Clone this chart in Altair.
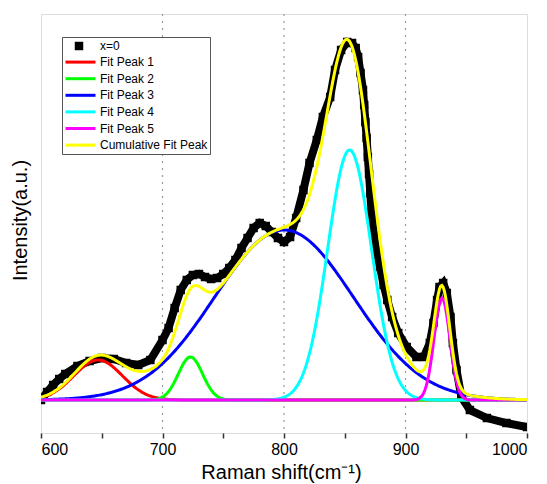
import altair as alt
import pandas as pd
import numpy as np

data_x = [600, 605, 610, 615, 620, 630, 640, 650, 660, 670, 680, 690, 700, 705, 710, 715,
          720, 725, 730, 735, 740, 745, 750, 755, 760, 765, 770, 775, 780, 785, 790, 795,
          800, 805, 810, 816, 821, 827, 832, 838, 842, 847, 852, 856, 859, 861, 863, 865,
          866, 867, 868, 869, 870, 871, 872, 874, 876, 879, 882, 885, 889, 894, 901, 909,
          915, 920, 923, 926, 928, 931, 934, 937, 939, 942, 946, 953, 967, 983, 1000]
data_y = [0, 8, 15, 21, 26, 34, 39, 42, 41, 37, 35, 40, 60, 72, 92, 110,
          120, 125, 126, 123, 121, 122, 126, 132, 140, 152, 162, 172, 177, 174, 168, 162,
          158, 163, 182, 210, 237, 260, 283, 303, 330, 350, 358, 357, 352, 343, 327, 310,
          295, 278, 262, 243, 226, 207, 188, 165, 150, 133, 115, 100, 83, 67, 53, 43,
          43, 57, 77, 100, 113, 117, 107, 83, 57, 30, 3, -10, -18, -23, -27]

# ---- Gaussian fit peaks (parameters) ----
peak_names = ["Fit Peak 1", "Fit Peak 2", "Fit Peak 3", "Fit Peak 4", "Fit Peak 5"]
peak_centers = [647, 723, 800, 854, 930]
peak_heights = [40, 43, 170, 250, 102]
peak_sigmas = [20, 10, 57, 18, 6.5]
cumulative_name = "Cumulative Fit Peak"
data_name = "x=0"

legend_domain = [data_name] + peak_names + [cumulative_name]
legend_colors = ["transparent", "#ff0000", "#00ff00", "#0000ff", "#00ffff", "#ff00ff", "#ffff00"]

grid_x = [700, 800, 900]
tick_values = [600, 650, 700, 750, 800, 850, 900, 950, 1000]

# ---- build tables ----
xs = np.arange(600, 1000.5, 1.0)
total = np.zeros_like(xs)
frames = []
for name, c, h, s in zip(peak_names, peak_centers, peak_heights, peak_sigmas):
    yv = h * np.exp(-((xs - c) ** 2) / (2 * s ** 2))
    total = total + yv
    frames.append(pd.DataFrame({"x": xs, "y": yv, "series": name}))
frames.append(pd.DataFrame({"x": xs, "y": total, "series": cumulative_name}))
fits = pd.concat(frames, ignore_index=True)

meas = pd.DataFrame({"x": data_x, "y": data_y, "name": data_name})
grid = pd.DataFrame({"x": grid_x})

FONT = "Liberation Sans"

x_enc = alt.X(
    "x:Q",
    scale=alt.Scale(domain=[600, 1000], nice=False, zero=False),
    axis=alt.Axis(
        values=tick_values, format="d",
        labelExpr="datum.value % 100 == 0 ? datum.label : ''",
        grid=False, domain=False, ticks=True, tickSize=5, tickColor="#333333", tickWidth=1.5,
        labelFontSize=16, labelFont=FONT, labelColor="black", labelPadding=3,
        title="Raman shift(cm⁻¹)", titleFontSize=20, titleFont=FONT, titleFontWeight="normal",
        titleColor="black", titleBaseline="alphabetic", titleY=45, titleX=240,
    ),
)
y_enc = alt.Y(
    "y:Q",
    scale=alt.Scale(domain=[-33, 386], nice=False, zero=False),
    axis=alt.Axis(
        labels=False, ticks=False, domain=False, grid=False,
        title="Intensity(a.u.)", titleFontSize=20, titleFont=FONT, titleFontWeight="normal",
        titleColor="black", titleAngle=-90, titleX=-15, titleY=206,
        titleBaseline="alphabetic", titleAlign="center",
    ),
)

color_enc = alt.Color(
    "series:N",
    title=None,
    scale=alt.Scale(domain=legend_domain, range=legend_colors),
    legend=alt.Legend(
        orient="none", legendX=21, legendY=23, symbolType="M-1,0H5", symbolSize=100,
        symbolStrokeWidth=3, labelFontSize=12, labelFont=FONT, labelColor="black",
        rowPadding=3.6, padding=2, strokeColor="#555555", fillColor="white",
        labelOffset=23, labelLimit=300, zindex=1,
    ),
)

gridlines = alt.Chart(grid).mark_rule(color="#999999", strokeDash=[2, 5], strokeWidth=1.2).encode(x=x_enc)

data_band = alt.Chart(meas).mark_line(color="black", strokeWidth=8, clip=True).encode(x=x_enc, y=y_enc)
data_pts = alt.Chart(meas).mark_point(filled=True, color="black", opacity=1, size=72, clip=True).encode(
    x=x_enc, y=y_enc,
    shape=alt.Shape(
        "name:N", title=None,
        scale=alt.Scale(domain=[data_name], range=["square"]),
        legend=alt.Legend(
            orient="none", legendX=33, legendY=27, labelExpr="''", symbolSize=72,
            symbolFillColor="black", symbolStrokeColor="black", symbolStrokeWidth=0,
            padding=0, zindex=2,
        ),
    ),
)

layers = [gridlines, data_band, data_pts]
for name in peak_names + [cumulative_name]:
    layers.append(
        alt.Chart(fits).transform_filter(alt.datum.series == name)
        .mark_line(strokeWidth=3, clip=True)
        .encode(x=x_enc, y=y_enc, color=color_enc)
    )

chart = alt.layer(*layers).properties(
    width=486, height=419,
    autosize=alt.AutoSizeParams(type="none"),
    padding={"left": 41, "top": 14, "right": 20, "bottom": 51},
).configure_view(stroke="#333333", strokeWidth=1.5).configure(background="white")

chart.save("out.html", embed_options={"renderer": "svg", "actions": False})
